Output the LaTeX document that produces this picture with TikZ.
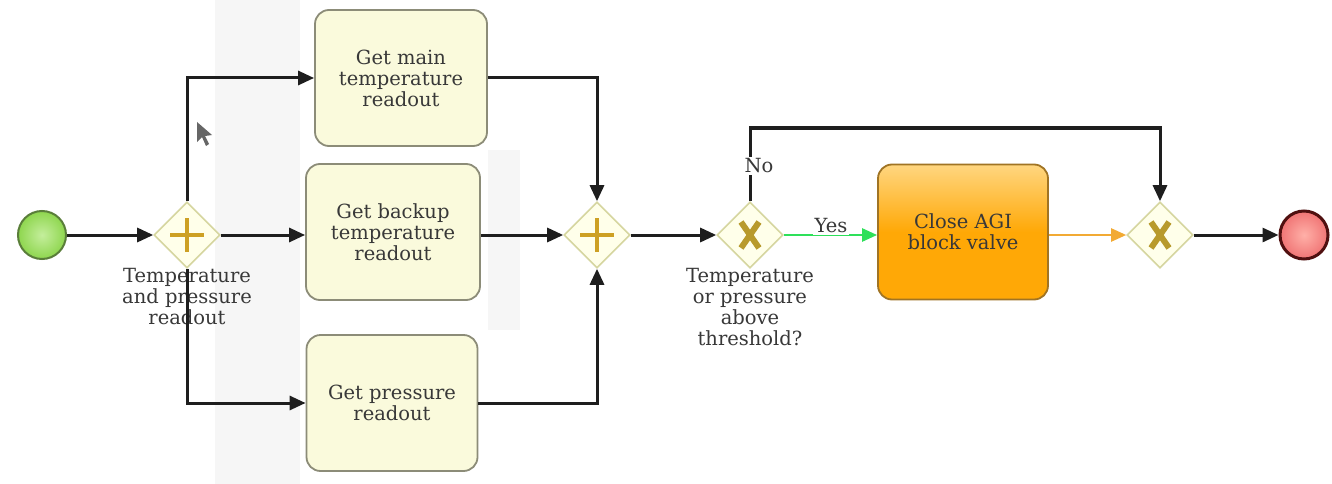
\documentclass[tikz,border=0pt]{standalone}
\usepackage{fontspec}
\setmainfont{DejaVu Serif}
\usetikzlibrary{shapes.geometric,arrows.meta}

\definecolor{taskfill}{HTML}{FAFADC}
\definecolor{taskline}{HTML}{8C8C78}
\definecolor{gwfill}{HTML}{FFFFEA}
\definecolor{gwline}{HTML}{D6D6A0}
\definecolor{gwmark}{HTML}{CDA024}
\definecolor{xmark}{HTML}{B89A2C}
\definecolor{flowc}{HTML}{1E1E1E}
\definecolor{yesc}{HTML}{2EE05A}
\definecolor{orflow}{HTML}{F2AA34}
\definecolor{orfill}{HTML}{FFA806}
\definecolor{orlight}{HTML}{FFD680}
\definecolor{orline}{HTML}{A07424}
\definecolor{txtc}{HTML}{383838}
\definecolor{startfill}{HTML}{8ED64E}
\definecolor{startlight}{HTML}{C4EE9C}
\definecolor{startline}{HTML}{5A7E3A}
\definecolor{endfill}{HTML}{F07474}
\definecolor{endlight}{HTML}{FFB0A8}
\definecolor{endline}{HTML}{501010}
\definecolor{panelgrey}{HTML}{F6F6F6}

\tikzset{
  lbl/.style={font=\fontsize{19.5}{21}\selectfont, text=txtc, align=center, inner sep=0pt},
  task/.style={lbl, draw=taskline, line width=1.8pt, fill=taskfill, rounded corners=14pt,
    minimum width=#1, minimum height=136pt},
  gateway/.style={diamond, draw=gwline, line width=1.6pt, fill=gwfill,
    minimum width=66pt, minimum height=66pt, inner sep=0pt},
  event/.style={circle, minimum size=48pt, inner sep=0pt},
  flow/.style={draw=flowc, line width=3pt, -{Triangle[length=16pt,width=14pt]}},
  yesflow/.style={draw=yesc, line width=2.6pt, -{Triangle[length=15pt,width=13pt]}},
  orangeflow/.style={draw=orflow, line width=2.2pt, -{Triangle[length=15pt,width=13pt]}},
  plusmark/.style={draw=gwmark, line width=4.5pt},
  xstroke/.style={draw=xmark, line width=6pt}
}

\begin{document}
\begin{tikzpicture}[x=1pt, y=-1pt]
  \useasboundingbox (0,0) rectangle (1332,484);
  \fill[white] (0,0) rectangle (1332,484);

  % faint panels behind the parallel tasks
  \fill[panelgrey] (215,0) rectangle (300,484);
  \fill[panelgrey] (488,150) rectangle (520,330);

  % events
  \node[event, draw=startline, line width=2pt, inner color=startlight, outer color=startfill] (start) at (42,235) {};
  \node[event, draw=endline, line width=3pt, inner color=endlight, outer color=endfill] (end) at (1304,235) {};

  % gateways
  \node[gateway] (g1) at (187,235) {};
  \node[gateway] (g2) at (597,235) {};
  \node[gateway] (g3) at (750,235) {};
  \node[gateway] (g4) at (1160,235) {};

  % gateway markers
  \draw[plusmark] (g1.center) ++(-17,0) -- ++(34,0);
  \draw[plusmark] (g1.center) ++(0,-17) -- ++(0,34);
  \draw[plusmark] (g2.center) ++(-17,0) -- ++(34,0);
  \draw[plusmark] (g2.center) ++(0,-17) -- ++(0,34);
  \draw[xstroke] (g3.center) ++(-9,-13) -- ++(18,26);
  \draw[xstroke] (g3.center) ++(9,-13) -- ++(-18,26);
  \draw[xstroke] (g4.center) ++(-9,-13) -- ++(18,26);
  \draw[xstroke] (g4.center) ++(9,-13) -- ++(-18,26);

  % tasks
  \node[task=172pt] (t1) at (401,78) {Get main\\temperature\\readout};
  \node[task=174pt] (t2) at (393,232) {Get backup\\temperature\\readout};
  \node[task=171pt] (t3) at (392,403) {Get pressure\\readout};
  \node[lbl, draw=orline, line width=1.8pt, rounded corners=14pt, minimum width=170pt,
        minimum height=135pt, top color=orlight, bottom color=orfill, middle color=orfill,
        shading angle=0] (t4) at (963,232) {Close AGI\\block valve};

  % gateway captions
  \node[lbl] (g1lab) at (187,297) {Temperature\\and pressure\\readout};
  \node[lbl] (g3lab) at (750,307) {Temperature\\or pressure\\above\\threshold?};

  % sequence flows
  \draw[flow] (start) -- (g1.west);
  \draw[flow] (g1.north) |- (t1.west);
  \draw[flow] (g1.east) -- (g1.east -| t2.west);
  \draw[flow] (g1.south) |- (t3.west);
  \draw[flow] (t1.east) -| (g2.north);
  \draw[flow] (t2.east |- g2.west) -- (g2.west);
  \draw[flow] (t3.east) -| (g2.south);
  \draw[flow] (g2.east) -- (g3.west);
  \coordinate (noturn) at (750,128);
  \draw[flow] (g3.north) -- (noturn) -| (g4.north);
  \node[lbl, fill=white, inner sep=2pt] (nolab) at (759,166) {No};
  \draw[yesflow] (g3.east) -- (g3.east -| t4.west);
  \node[lbl, fill=white, inner sep=2pt] (yeslab) at (831,226) {Yes};
  \draw[orangeflow] (t4.east |- g4.west) -- (g4.west);
  \draw[flow] (g4.east) -- (end.west);

  % mouse pointer
  \fill[black!75, opacity=0.8] (197,122) -- (197,142) -- (202,137) -- (206,146) -- (209,144)
    -- (205,136) -- (212,135) -- cycle;
\end{tikzpicture}
\end{document}
